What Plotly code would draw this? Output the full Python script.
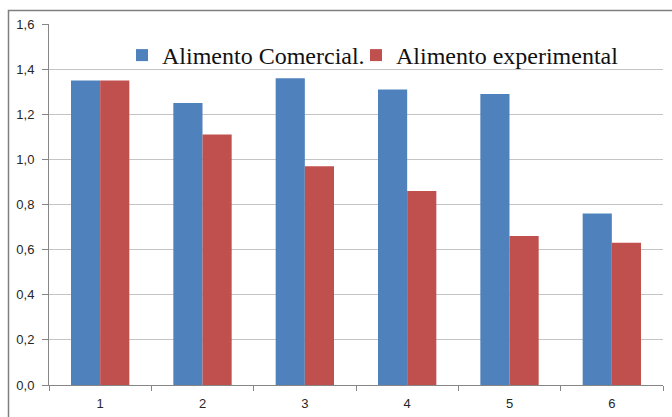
import plotly.graph_objects as go

categories = ["1", "2", "3", "4", "5", "6"]
comercial = [1.35, 1.25, 1.36, 1.31, 1.29, 0.76]
experimental = [1.35, 1.11, 0.97, 0.86, 0.66, 0.63]
series_names = ["Alimento Comercial.", "Alimento experimental"]
ytick_vals = [0, 0.2, 0.4, 0.6, 0.8, 1.0, 1.2, 1.4, 1.6]
ytick_text = ["0,0", "0,2", "0,4", "0,6", "0,8", "1,0", "1,2", "1,4", "1,6"]

fig = go.Figure()
fig.add_trace(go.Bar(x=categories, y=comercial, name=series_names[0], legend="legend",
                     marker=dict(color="#4F81BD", line=dict(width=0))))
fig.add_trace(go.Bar(x=categories, y=experimental, name=series_names[1], legend="legend2",
                     marker=dict(color="#C0504D", line=dict(width=0))))

L, R, T, B = 49, 9, 24, 32
W, H = 672, 417
pw, ph = W - L - R, H - T - B

legfont = dict(family="Liberation Serif, Times New Roman, serif", size=24, color="#111111")

fig.update_layout(
    width=W, height=H,
    margin=dict(l=L, r=R, t=T, b=B, pad=0, autoexpand=False),
    paper_bgcolor="white", plot_bgcolor="white",
    barmode="group", bargap=0.43, bargroupgap=0,
    font=dict(family="Liberation Sans, Arial, sans-serif", size=13, color="#262626"),
    showlegend=True,
    legend=dict(orientation="h", x=(122 - L) / pw, y=(385 - 33) / ph,
                xanchor="left", yanchor="top", font=legfont,
                bgcolor="rgba(255,255,255,0)", itemclick=False),
    legend2=dict(orientation="h", x=(356 - L) / pw, y=(385 - 33) / ph,
                 xanchor="left", yanchor="top", font=legfont,
                 bgcolor="rgba(255,255,255,0)", itemclick=False),
    xaxis=dict(type="category", showline=True, linecolor="#868686", linewidth=1,
               ticks="outside", tickson="boundaries", ticklen=5, tickcolor="#868686",
               showgrid=False, tickfont=dict(size=13), automargin=False,
               ticklabelstandoff=6),
    yaxis=dict(range=[0, 1.6], tickvals=ytick_vals, ticktext=ytick_text,
               showline=True, linecolor="#868686", linewidth=1,
               ticks="outside", ticklen=6, tickcolor="#868686",
               showgrid=True, gridcolor="#C4C4C4", gridwidth=1.3,
               zeroline=False, tickfont=dict(size=13), automargin=False,
               ticklabelstandoff=5),
)

fig.add_shape(type="rect", xref="paper", yref="paper",
              x0=(8.5 - L) / pw, x1=(674 - L) / pw,
              y0=-(425 - 385) / ph, y1=(385 - 10.5) / ph,
              line=dict(color="#7F7F7F", width=1.5), fillcolor="rgba(0,0,0,0)",
              layer="below")

fig.write_html("out.html", config={"displayModeBar": False},
               post_script="document.body.style.margin='0';document.body.style.padding='0';")
